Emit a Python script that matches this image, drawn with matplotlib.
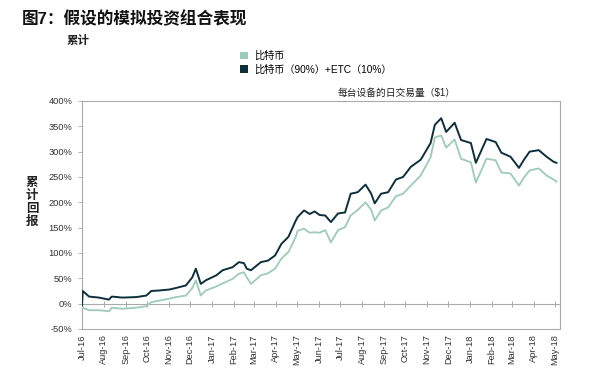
import matplotlib
matplotlib.use("Agg")
import matplotlib.pyplot as plt
from matplotlib.patches import Patch
import pandas as pd

plt.rcParams['font.family'] = ['Liberation Sans', 'Noto Sans CJK SC', 'DejaVu Sans']

title = "图7：假设的模拟投资组合表现"
subtitle = "累计"
note = "每台设备的日交易量（$1）"
ylabel = "累\n计\n回\n报"
series_names = ["比特币", "比特币（90%）+ETC（10%）"]

dates = [
    "2016-07-01", "2016-07-02", "2016-07-11", "2016-07-25", "2016-08-08", "2016-08-12",
    "2016-08-27", "2016-09-16", "2016-09-30", "2016-10-07", "2016-10-18", "2016-11-02",
    "2016-11-11", "2016-11-25", "2016-12-04", "2016-12-09", "2016-12-16", "2016-12-23",
    "2017-01-07", "2017-01-16", "2017-01-30", "2017-02-08", "2017-02-15", "2017-02-19",
    "2017-02-25", "2017-03-11", "2017-03-21", "2017-03-31", "2017-04-09", "2017-04-19",
    "2017-04-29", "2017-05-02", "2017-05-11", "2017-05-19", "2017-05-26", "2017-06-02",
    "2017-06-10", "2017-06-18", "2017-06-28", "2017-07-08", "2017-07-16", "2017-07-26",
    "2017-08-06", "2017-08-14", "2017-08-19", "2017-08-28", "2017-09-07", "2017-09-18",
    "2017-09-28", "2017-10-09", "2017-10-23", "2017-11-06", "2017-11-12", "2017-11-21",
    "2017-11-28", "2017-12-10", "2017-12-19", "2018-01-02", "2018-01-09", "2018-01-24",
    "2018-02-06", "2018-02-14", "2018-02-27", "2018-03-11", "2018-03-18", "2018-03-26",
    "2018-04-08", "2018-04-19", "2018-04-29", "2018-05-03",
]

btc_etc = [
    -3, 25, 14, 12, 8, 14,
    12, 13, 16, 25, 26, 28,
    31, 36, 52, 69, 39, 46,
    56, 66, 72, 82, 80, 69,
    66, 82, 85, 95, 118, 132,
    163, 171, 184, 177, 182, 175,
    174, 161, 178, 180, 217, 220,
    235, 217, 198, 217, 220, 245,
    250, 270, 284, 317, 353, 366,
    339, 357, 323, 317, 278, 325,
    319, 298, 290, 268, 284, 300,
    303, 290, 280, 278,
]

btc = [
    0, -8, -13, -13, -15, -8,
    -10, -8, -5, 3, 6, 10,
    13, 16, 31, 46, 16, 26,
    34, 40, 49, 59, 62, 52,
    39, 56, 60, 69, 89, 102,
    131, 144, 148, 140, 141, 140,
    145, 121, 145, 151, 174, 185,
    200, 185, 164, 184, 190, 212,
    217, 233, 253, 289, 328, 332,
    308, 324, 286, 279, 239, 286,
    283, 259, 257, 233, 249, 263,
    267, 253, 245, 241,
]

yticks = [-50, 0, 50, 100, 150, 200, 250, 300, 350, 400]
xtick_months = pd.date_range("2016-07-01", "2018-05-01", freq="MS")

light_color = "#9ccbb9"
dark_color = "#0c2f3b"
axis_color = "#aaaaaa"
text_color = "#333333"

x = pd.to_datetime(dates)

fig = plt.figure(figsize=(6.0, 3.76), dpi=100)
ax = fig.add_axes([82/600, 1-329/376, (560-82)/600, (329-101)/376])

ax.plot(x, btc, color=light_color, lw=1.3, zorder=3)
ax.plot(x, btc_etc, color=dark_color, lw=1.4, zorder=4)

ax.axhline(0, color=axis_color, lw=0.8, zorder=1)
ax.plot(xtick_months, [0]*len(xtick_months), ls="none", marker="|",
        markersize=4, color=axis_color, markeredgewidth=0.7, zorder=1)

ax.set_ylim(-50, 400)
ax.set_yticks(yticks)
ax.set_yticklabels([f"{v}%" for v in yticks])
ax.set_xlim(pd.Timestamp("2016-07-01"), pd.Timestamp("2018-05-08"))
ax.set_xticks(xtick_months)
ax.set_xticklabels([d.strftime("%b-%y") for d in xtick_months], rotation=90)

ax.tick_params(axis="y", length=3, width=0.6, color=axis_color, pad=4,
               labelsize=6.7, labelcolor=text_color)
ax.tick_params(axis="x", length=0, pad=4, labelsize=6.7, labelcolor=text_color)
for s in ax.spines.values():
    s.set_color(axis_color)
    s.set_linewidth(0.8)

fig.text(22/600, 1-19/376, title, fontsize=12, fontweight="bold",
         va="center", ha="left", color="#111111")
fig.text(67/600, 1-41/376, subtitle, fontsize=8.3, fontweight="bold",
         va="center", ha="left", color="#222222")
fig.text(456/600, 1-93/376, note, fontsize=7, va="center", ha="right",
         color="#222222")
fig.text(32/600, 1-202/376, ylabel, fontsize=9, fontweight="bold",
         family=["Noto Sans CJK SC"], va="center", ha="center",
         linespacing=1.02, color="#222222")

handles = [Patch(facecolor=light_color, edgecolor="none"),
           Patch(facecolor=dark_color, edgecolor="none")]
fig.legend(handles, series_names, loc="upper left",
           bbox_to_anchor=(240/600, 1-51/376), frameon=False, fontsize=7.3,
           handlelength=0.75, handleheight=0.75, handletextpad=0.6,
           labelspacing=0.3, borderpad=0, borderaxespad=0)

fig.savefig("out.png", dpi=100)
